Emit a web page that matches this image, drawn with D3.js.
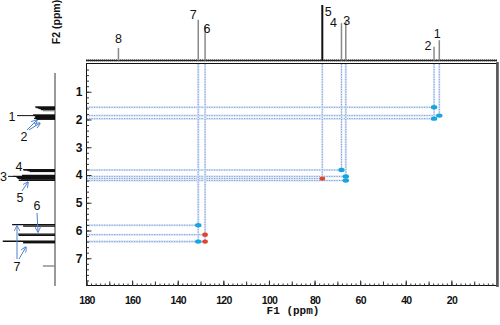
<!DOCTYPE html>
<html><head><meta charset="utf-8">
<script src="https://cdn.jsdelivr.net/npm/d3@7"></script>
<style>body{margin:0;background:#fff}svg{display:block}</style>
</head><body>
<script>
// ---- data ----
const topLabels = ["8","7","6","5","4","3","2","1"];
const topShifts = [166, 131, 128, 76.6, 68.2, 66.3, 27.6, 25.3];
const topIntensity = [0.22, 0.73, 0.62, 1.0, 0.67, 0.71, 0.24, 0.36];

const crossF1 = [27.6, 25.3, 27.6, 68.2, 66.3, 76.6, 66.3, 131, 128, 131, 128];
const crossF2 = [1.56, 1.86, 1.97, 3.82, 4.05, 4.13, 4.20, 5.81, 6.15, 6.40, 6.40];
const crossPhase = ["+", "+", "+", "+", "+", "-", "+", "+", "-", "+", "-"];

const protonShifts = [1.55, 1.57, 1.60, 1.64, 1.68, 1.84, 1.86, 1.89, 1.93, 1.96, 1.99,
  3.81, 3.84, 3.87, 4.02, 4.05, 4.08, 4.12, 4.15, 4.19, 5.79, 5.84, 6.13, 6.17, 6.39, 6.44, 7.28];
const protonIntensity = [0.36, 0.34, 0.30, 0.26, 0.22, 0.40, 0.38, 0.36, 0.36, 0.38, 0.34,
  0.58, 0.50, 0.46, 0.60, 0.76, 0.70, 0.68, 0.62, 0.66, 0.78, 0.58, 0.67, 0.66, 0.95, 0.58, 0.22];

const xTickValues = [180, 160, 140, 120, 100, 80, 60, 40, 20];
const yTickValues = [1, 2, 3, 4, 5, 6, 7];

// ---- layout ----
const W = 500, H = 325;
const svg = d3.select("body").append("svg").attr("width", W).attr("height", H);
const x = d3.scaleLinear().domain([180, 0]).range([86.5, 497]);
const y = d3.scaleLinear().domain([0, 8]).range([64, 286]);
const topI = d3.scaleLinear().domain([0, 1]).range([60, 5]);
const leftI = d3.scaleLinear().domain([0, 1]).range([55, 0]);

// ---- grid connection lines (dashed) ----
const gl = svg.append("g");
crossF1.forEach((f1, i) => {
  const f2 = crossF2[i];
  const segs = [[x(180), y(f2), x(f1), y(f2)], [x(f1), y(0), x(f1), y(f2)]];
  segs.forEach(s => {
    gl.append("line").attr("x1", s[0]).attr("y1", s[1]).attr("x2", s[2]).attr("y2", s[3])
      .attr("stroke", "#dbe5f4").attr("stroke-width", 2);
    gl.append("line").attr("x1", s[0]).attr("y1", s[1]).attr("x2", s[2]).attr("y2", s[3])
      .attr("stroke", "#6f98da").attr("stroke-width", 0.9).attr("stroke-dasharray", "1.2,1.3");
  });
});

// ---- cross peaks ----
svg.append("g").selectAll("ellipse").data(crossF1).join("ellipse")
  .attr("cx", d => x(d)).attr("cy", (d, i) => y(crossF2[i]))
  .attr("rx", (d, i) => crossPhase[i] === "+" ? 3.2 : 2.8).attr("ry", 2.2)
  .attr("fill", (d, i) => crossPhase[i] === "+" ? "#16a6df" : "#e0452c");

// ---- frame ----
svg.append("rect").attr("x", 86.5).attr("y", 63.5).attr("width", 410.5).attr("height", 222)
  .attr("fill", "none").attr("stroke", "#111").attr("stroke-width", 1);
svg.append("line").attr("x1", 497.5).attr("x2", 497.5).attr("y1", 62).attr("y2", 287)
  .attr("stroke", "#555").attr("stroke-width", 2.5);

// ---- axes ----
const xa = svg.append("g").attr("transform", "translate(0,285.5)");
xa.call(d3.axisBottom(x).tickValues(d3.range(2, 181, 2)).tickSize(-2).tickFormat(""));
xa.append("g").call(d3.axisBottom(x).tickValues(d3.range(10, 181, 10)).tickSize(-4).tickFormat(""));
const xl = xa.append("g").call(d3.axisBottom(x).tickValues(xTickValues).tickSize(-5).tickPadding(11));
xa.selectAll(".domain").remove();
xa.selectAll("line").attr("stroke", "#333");
xl.selectAll("text").attr("font-family", "Liberation Sans, Arial, sans-serif")
  .attr("font-weight", "bold").attr("font-size", 10.5).attr("letter-spacing", -0.7).attr("fill", "#111");

const ya = svg.append("g").attr("transform", "translate(86.5,0)");
ya.call(d3.axisLeft(y).tickValues(d3.range(0.2, 8, 0.2)).tickSize(-2.5).tickFormat(""));
const yl = ya.append("g").call(d3.axisLeft(y).tickValues(yTickValues).tickSize(-5).tickPadding(4));
ya.selectAll(".domain").remove();
ya.selectAll("line").attr("stroke", "#333");
yl.selectAll("text").attr("font-family", "Liberation Sans, Arial, sans-serif")
  .attr("font-weight", "bold").attr("font-size", 12).attr("fill", "#111");

// ---- top 13C projection ----
const tp = svg.append("g");
tp.append("line").attr("x1", 86).attr("x2", 497).attr("y1", 60.5).attr("y2", 60.5)
  .attr("stroke", "#222").attr("stroke-width", 1.4);
tp.append("line").attr("x1", 86).attr("x2", 497).attr("y1", 60.3).attr("y2", 60.3)
  .attr("stroke", "#333").attr("stroke-width", 2.6).attr("stroke-dasharray", "0.7,1.3").attr("opacity", 0.7);
tp.selectAll("line.pk").data(topShifts).join("line").attr("class", "pk")
  .attr("x1", d => x(d)).attr("x2", d => x(d))
  .attr("y1", 60.5).attr("y2", (d, i) => topI(topIntensity[i]))
  .attr("stroke", (d, i) => topLabels[i] === "5" ? "#111" : "#8a8a8a")
  .attr("stroke-width", (d, i) => topLabels[i] === "5" ? 2 : 1.5);
const labOff = [[0, -5], [-5, -1], [2, 7], [6, 11], [-8, 4], [1, 4], [-6, 3], [-2, -2]];
tp.selectAll("text").data(topShifts).join("text")
  .attr("x", (d, i) => x(d) + labOff[i][0]).attr("y", (d, i) => topI(topIntensity[i]) + labOff[i][1])
  .attr("text-anchor", "middle").attr("font-family", "Liberation Sans, Arial, sans-serif")
  .attr("font-size", 12.5).attr("fill", "#111").text((d, i) => topLabels[i]);

// ---- left 1H projection ----
const lp = svg.append("g");
lp.append("line").attr("x1", 55).attr("x2", 55).attr("y1", 73).attr("y2", 286)
  .attr("stroke", "#999").attr("stroke-width", 2);
lp.selectAll("line.pk").data(protonShifts).join("line").attr("class", "pk")
  .attr("x1", 55).attr("x2", (d, i) => leftI(protonIntensity[i]))
  .attr("y1", d => y(d)).attr("y2", d => y(d))
  .attr("stroke", (d, i) => protonIntensity[i] < 0.25 ? "#888" : "#111")
  .attr("stroke-width", 1.4);

// labels and arrows on 1H projection
const lf = "Liberation Sans, Arial, sans-serif";
function lab(t, tx, ty) {
  lp.append("text").attr("x", tx).attr("y", ty).attr("text-anchor", "middle")
    .attr("dominant-baseline", "central").attr("font-family", lf).attr("font-size", 12.5)
    .attr("fill", "#111").text(t);
}
function lead(x1, y1, x2, y2) {
  lp.append("line").attr("x1", x1).attr("y1", y1).attr("x2", x2).attr("y2", y2)
    .attr("stroke", "#111").attr("stroke-width", 1);
}
const defs = svg.append("defs");
defs.append("marker").attr("id", "ah").attr("viewBox", "0 0 10 10").attr("refX", 9).attr("refY", 5)
  .attr("markerWidth", 6).attr("markerHeight", 6).attr("orient", "auto")
  .append("path").attr("d", "M0,0 L10,5 L0,10").attr("fill", "none").attr("stroke", "#4f80d0").attr("stroke-width", 1.5);
function arrow(x1, y1, x2, y2) {
  lp.append("line").attr("x1", x1).attr("y1", y1).attr("x2", x2).attr("y2", y2)
    .attr("stroke", "#4f80d0").attr("stroke-width", 1).attr("marker-end", "url(#ah)");
}
lab("1", 12, 117); lead(17, y(1.86), 34, y(1.86));
lab("2", 24, 137); arrow(27, 130, 37, 120); arrow(29, 130, 40, 123);
lab("4", 19, 167); lead(24, y(3.82), 33, y(3.82));
lab("3", 3.5, 177); lead(8, y(4.05), 14, y(4.05));
lab("5", 20, 198); arrow(22, 191, 28, 182);
lab("6", 37, 206); arrow(37, 213, 38, 232);
lab("7", 17, 267); arrow(17, 259, 17, 226); arrow(19, 259, 26, 247);

// ---- axis titles ----
svg.append("text").attr("x", 293).attr("y", 314).attr("text-anchor", "middle")
  .attr("font-family", "Liberation Mono, Courier New, monospace").attr("font-weight", "bold")
  .attr("font-size", 11).attr("fill", "#111").text("F1 (ppm)");
svg.append("text").attr("transform", "translate(60,22) rotate(-90)").attr("text-anchor", "middle")
  .attr("font-family", lf).attr("font-weight", "bold").attr("font-size", 10.5)
  .attr("fill", "#111").text("F2 (ppm)");
</script>
</body></html>
